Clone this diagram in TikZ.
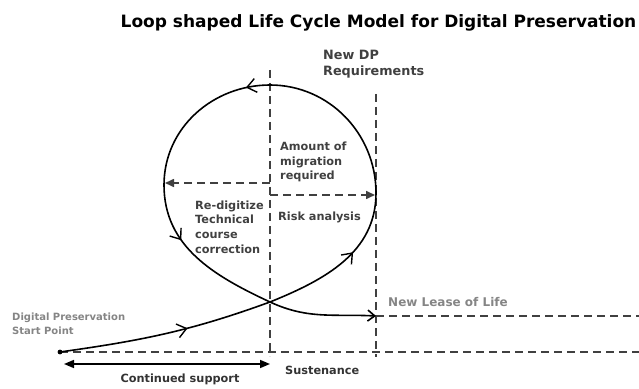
\documentclass[tikz,border=0pt]{standalone}
\usepackage{fontspec}
\setmainfont{DejaVu Sans}
\usetikzlibrary{arrows.meta}
\usetikzlibrary{positioning}
\usetikzlibrary{decorations.markings}
\definecolor{dkgray}{HTML}{404040}
\definecolor{ltgray}{HTML}{858585}
\tikzset{
    loopedge/.style={line width=1.6pt,black},
    dline/.style={dkgray,line width=1.6pt,dash pattern=on 8pt off 5pt},
    dedge/.style={dline,-{Triangle[length=9pt,width=8pt]}},
    lbl/.style={inner sep=0pt,text=dkgray,align=left,
    font=\bfseries\fontsize{11.3}{14.6}\selectfont},
    midarrow/.style={postaction={decorate},decoration={markings,
    mark=at position #1 with {\arrow[line width=1.4pt]{Straight Barb[length=9pt,width=14pt]}}}}
}

\begin{document}
\begin{tikzpicture}[x=1pt,y=1pt]
\useasboundingbox (0,0) rectangle (639,388);
\node[inner sep=0pt,anchor=base,font=\bfseries\fontsize{17}{20}\selectfont] (title) at (378.5,360) {Loop shaped Life Cycle Model for Digital Preservation};

% points of the loop
\coordinate (start) at (60,36);
\coordinate (cross) at (270,86);
\coordinate (right) at (376,195);
\coordinate (top) at (270,303);
\coordinate (left) at (164,203);
\coordinate (end) at (376,72);

% dashed guide lines
\coordinate (v1top) at (270,318);
\coordinate (v1bot) at (270,32);
\coordinate (v2top) at (376,294);
\coordinate (v2bot) at (376,31);
\coordinate (hbr) at (639,36);
\coordinate (nlr) at (639,72);
\coordinate (la) at (270,205);
\coordinate (lb) at (165,205);
\coordinate (ra) at (270,193);
\coordinate (rb) at (375,193);

\draw[dline] (v1top) -- (v1bot);
\draw[dline] (v2top) -- (v2bot);
\draw[dline] (start) -- (hbr);
\draw[dline] (end) -- (nlr);
\draw[dedge] (la) -- (lb);
\draw[dedge] (ra) -- (rb);

% the loop
\draw[loopedge,midarrow=0.6] (start) to[out=8,in=200] (cross);
\draw[loopedge,midarrow=0.6] (cross) to[out=22,in=-90] (right);
\draw[loopedge] (right) to[out=90,in=0] (top);
\draw[loopedge,midarrow=0.15] (top) to[out=180,in=90] (left);
\draw[loopedge,midarrow=0.35] (left) to[out=-90,in=155] (cross);
\draw[loopedge,-{Straight Barb[length=7pt,width=11pt]}] (cross) to[out=-25,in=177] (end);
\node[circle,fill=black,inner sep=1.7pt] (dot) at (start) {};

% support arrow
\coordinate (csl) at (64,24);
\coordinate (csr) at (270,24);
\draw[line width=1.6pt,{Triangle[length=10pt,width=8pt]}-{Triangle[length=10pt,width=8pt]}] (csl) -- (csr);

% labels
\node[lbl,anchor=west,font=\bfseries\fontsize{12.8}{16}\selectfont] (newdp) at (323,324) {New DP\\Requirements};
\node[lbl,anchor=west] (amount) at (280,226) {Amount of\\migration\\required};
\node[lbl,anchor=west] (redig) at (195,161) {Re-digitize\\Technical\\course\\correction};
\node[lbl,anchor=west] (risk) at (278,171) {Risk analysis};
\node[lbl,anchor=west,text=ltgray,font=\bfseries\fontsize{10}{14}\selectfont] (startlbl) at (12,64) {Digital Preservation\\Start Point};
\node[lbl,anchor=west,text=ltgray,font=\bfseries\fontsize{12}{15}\selectfont] (lease) at (388,86) {New Lease of Life};
\node[lbl,anchor=west,text=black!80] (sust) at (285,18) {Sustenance};
\node[lbl,text=black!80] (support) at (180,9) {Continued support};
\end{tikzpicture}
\end{document}
